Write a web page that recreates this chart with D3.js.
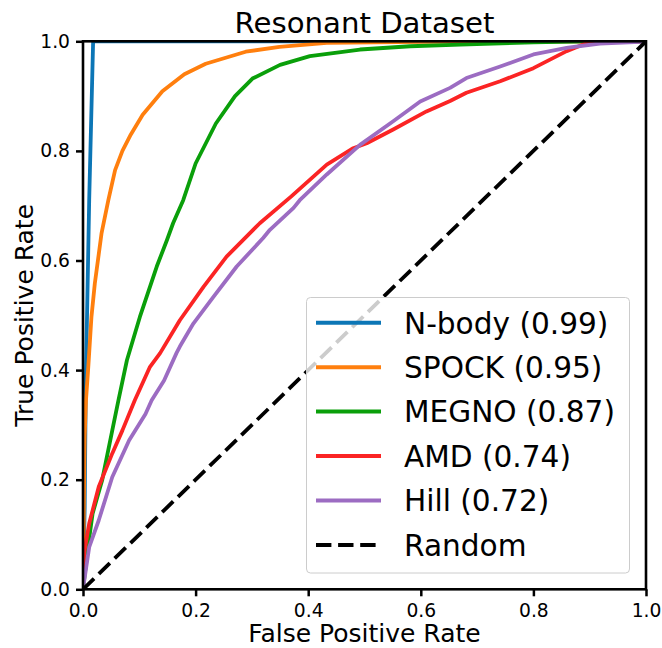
<!DOCTYPE html>
<html><head><meta charset="utf-8">
<script src="https://cdn.jsdelivr.net/npm/d3@7"></script>
<style>body{margin:0;background:#fff}svg{display:block;font-family:"DejaVu Sans",sans-serif}</style>
</head><body><svg id="c" width="662" height="648"></svg>
<script>
const title = "Resonant Dataset";
const xLabel = "False Positive Rate";
const yLabel = "True Positive Rate";
const tickValues = [0, 0.2, 0.4, 0.6, 0.8, 1.0];
const seriesNames = ["N-body", "SPOCK", "MEGNO", "AMD", "Hill"];
const aucValues = [0.99, 0.95, 0.87, 0.74, 0.72];
const colors = ["#0c76b6", "#ff7f0e", "#0a9f0a", "#fb2424", "#9c6cc2"];

const nbody = [[0,0],[0.003,0.15],[0.005,0.38],[0.011,0.71],[0.018,1.0],[1,1]];
const spock = [[0,0],[0.001,0.1],[0.002,0.2],[0.003,0.28],[0.0053,0.345],[0.0094,0.406],[0.015,0.497],[0.021,0.558],[0.033,0.65],[0.045,0.71],[0.057,0.765],[0.07,0.80],[0.085,0.83],[0.106,0.866],[0.141,0.909],[0.18,0.94],[0.218,0.959],[0.289,0.981],[0.349,0.99],[0.433,0.997],[0.6,0.999],[1,1]];
const megno = [[0,0],[0.009,0.078],[0.017,0.138],[0.034,0.199],[0.052,0.29],[0.063,0.345],[0.078,0.418],[0.101,0.497],[0.131,0.589],[0.149,0.637],[0.16,0.668],[0.178,0.71],[0.2,0.777],[0.236,0.85],[0.27,0.9],[0.301,0.932],[0.35,0.957],[0.403,0.973],[0.492,0.985],[0.581,0.991],[0.67,0.994],[0.8,0.998],[0.89,1.0],[1,1]];
const amd = [[0,0],[0.002,0.066],[0.011,0.12],[0.028,0.187],[0.052,0.248],[0.07,0.29],[0.092,0.345],[0.119,0.406],[0.137,0.431],[0.172,0.491],[0.214,0.552],[0.255,0.607],[0.314,0.668],[0.37,0.717],[0.433,0.775],[0.48,0.805],[0.504,0.814],[0.551,0.839],[0.61,0.872],[0.652,0.891],[0.681,0.906],[0.741,0.927],[0.8,0.951],[0.859,0.982],[0.9,0.999],[1,1]];
const hill = [[0,0],[0.011,0.077],[0.028,0.126],[0.052,0.205],[0.082,0.272],[0.111,0.32],[0.122,0.345],[0.144,0.381],[0.166,0.431],[0.172,0.443],[0.196,0.485],[0.232,0.534],[0.273,0.589],[0.32,0.641],[0.332,0.656],[0.374,0.696],[0.385,0.71],[0.433,0.757],[0.492,0.811],[0.551,0.854],[0.599,0.89],[0.652,0.915],[0.681,0.933],[0.741,0.954],[0.8,0.976],[0.859,0.988],[0.918,0.996],[0.99,0.999],[1,1]];
const randomLine = [[0,0],[1,1]];
const seriesData = [nbody, spock, megno, amd, hill];

const L = 83, R = 646, T = 41.3, B = 589.3;
const svg = d3.select("#c");
const x = d3.scaleLinear().domain([0,1]).range([L,R]);
const y = d3.scaleLinear().domain([0,1]).range([B,T]);

svg.append("defs").append("clipPath").attr("id","clip")
  .append("rect").attr("x",L).attr("y",T).attr("width",R-L).attr("height",B-T);

const line = d3.line().x(d=>x(d[0])).y(d=>y(d[1]));
const g = svg.append("g").attr("clip-path","url(#clip)");
seriesData.forEach((s,i)=>{
  g.append("path").attr("d",line(s)).attr("fill","none")
    .attr("stroke",colors[i]).attr("stroke-width",3.8).attr("stroke-linejoin","round");
});
g.append("path").attr("d",line(randomLine)).attr("fill","none")
  .attr("stroke","#000").attr("stroke-width",3.8).attr("stroke-dasharray","15.4,6.7");

// axes
const xa = svg.append("g").attr("transform",`translate(0,${B})`)
  .call(d3.axisBottom(x).tickValues(tickValues).tickFormat(d3.format(".1f")).tickSize(7).tickPadding(7));
const ya = svg.append("g").attr("transform",`translate(${L},0)`)
  .call(d3.axisLeft(y).tickValues(tickValues).tickFormat(d3.format(".1f")).tickSize(7).tickPadding(6));
[xa,ya].forEach(a=>{
  a.select(".domain").remove();
  a.selectAll(".tick line").attr("stroke","#000").attr("stroke-width",2.5);
  a.selectAll(".tick text").attr("font-size",18.7).attr("fill","#000").attr("font-family","DejaVu Sans");
});
// spines
svg.append("rect").attr("x",L).attr("y",T).attr("width",R-L).attr("height",B-T)
  .attr("fill","none").attr("stroke","#000").attr("stroke-width",2.6);

svg.append("text").attr("x",(L+R)/2).attr("y",33.3).attr("text-anchor","middle")
  .attr("font-size",29.2).text(title);
svg.append("text").attr("x",(L+R)/2).attr("y",642).attr("text-anchor","middle")
  .attr("font-size",25).text(xLabel);
svg.append("text").attr("transform",`translate(33,${(T+B)/2}) rotate(-90)`).attr("text-anchor","middle")
  .attr("font-size",25).text(yLabel);

// legend
const lg = svg.append("g");
lg.append("rect").attr("x",306.5).attr("y",297.5).attr("width",323).attr("height",275.5)
  .attr("rx",4).attr("fill","#fff").attr("fill-opacity",0.8).attr("stroke","#cccccc").attr("stroke-width",1);
const labels = seriesNames.map((n,i)=>`${n} (${aucValues[i].toFixed(2)})`).concat(["Random"]);
labels.forEach((t,i)=>{
  const cy = 322.7 + i*44.45;
  lg.append("line").attr("x1",316).attr("x2",381).attr("y1",cy).attr("y2",cy)
    .attr("stroke", i<5 ? colors[i] : "#000").attr("stroke-width",4)
    .attr("stroke-dasharray", i<5 ? null : "15.4,6.7");
  lg.append("text").attr("x",404).attr("y",cy+10.8).attr("font-size",29.6).text(t);
});
</script></body></html>
